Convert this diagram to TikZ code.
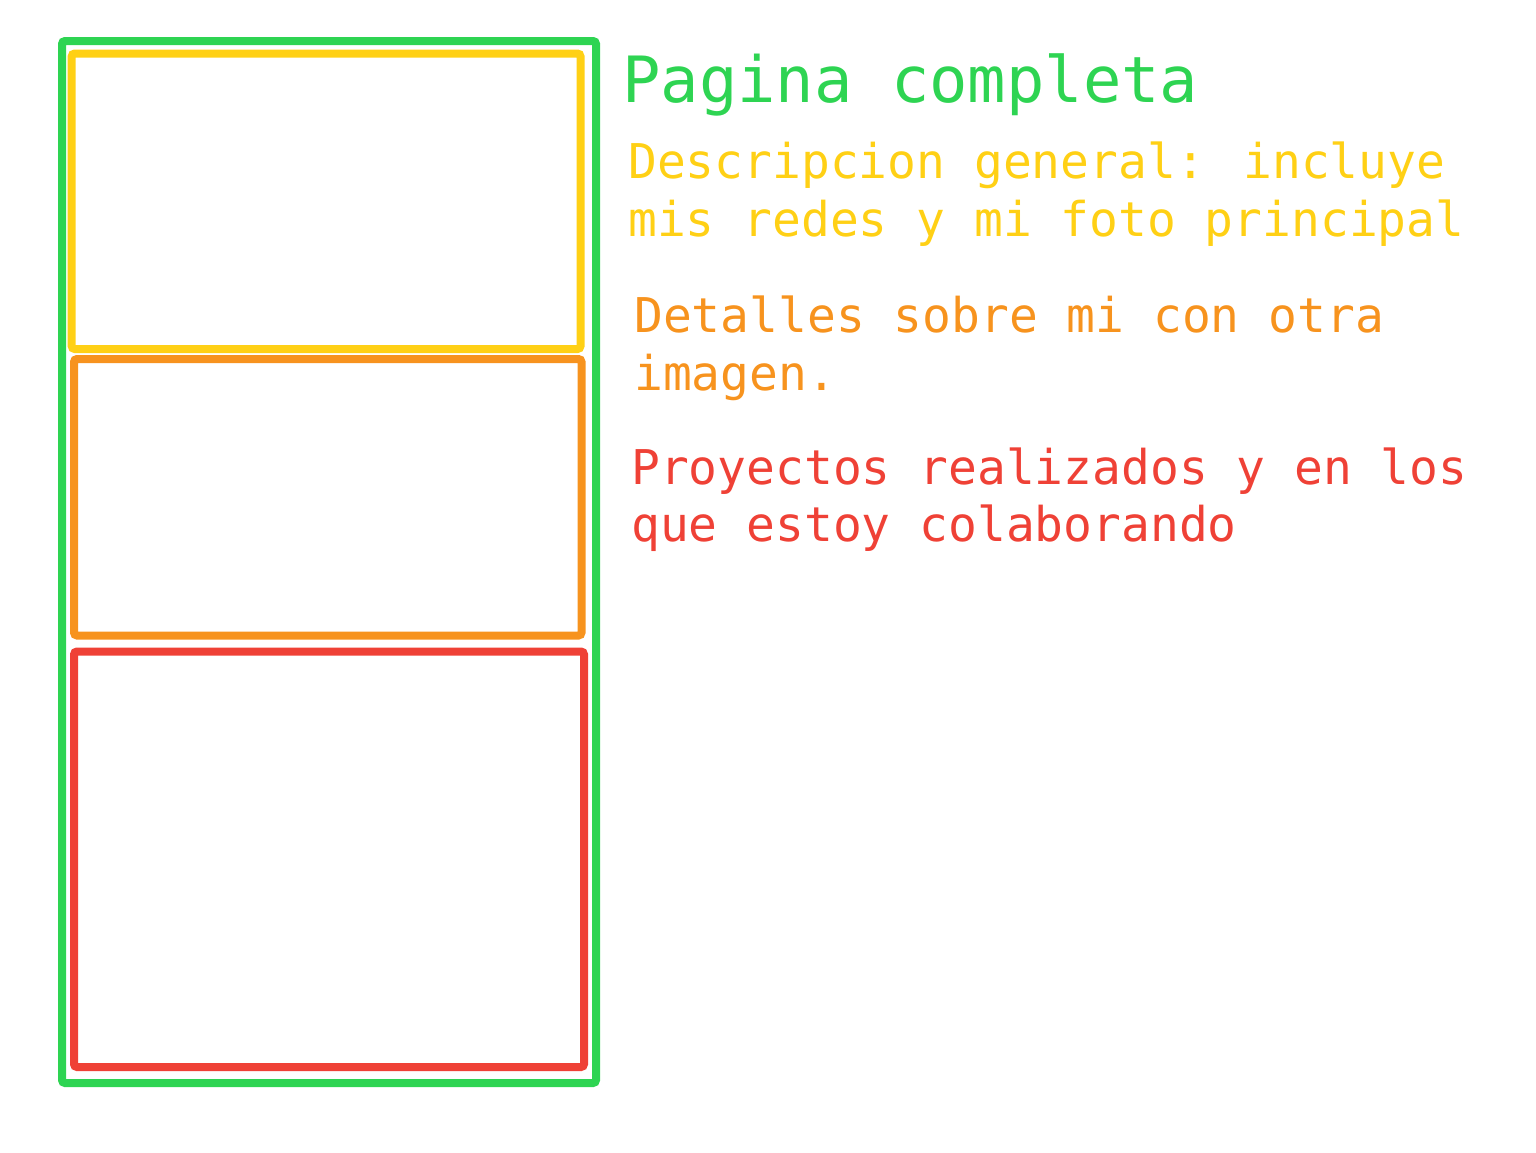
\documentclass[tikz,border=0pt]{standalone}
\usepackage{fontspec}
\usepackage{tikz}
\newfontfamily\monofont{DejaVu Sans Mono}

\definecolor{verde}{RGB}{46,212,82}
\definecolor{amarillo}{RGB}{255,208,21}
\definecolor{naranja}{RGB}{247,147,30}
\definecolor{rojo}{RGB}{239,65,54}

\begin{document}
\begin{tikzpicture}[x=1pt,y=-1pt,
   caja/.style={line width=8pt,rounded corners=3pt}]

\tikzstyle {titulo} = [anchor=base west, inner sep=0pt, font=\monofont\fontsize{63.8}{76}\selectfont];
\tikzstyle {nota} = [anchor=base west, inner sep=0pt, align=left, font=\monofont\fontsize{47.9}{57.7}\selectfont];

\useasboundingbox (0,0) rectangle (1536,1152);

\draw[caja, verde] (62,41) rectangle (596,1083);
\draw[caja, amarillo] (71.7,53.5) rectangle (580.5,349);
\draw[caja, naranja] (74,359) rectangle (581.5,635.5);
\draw[caja, rojo] (74,651.5) rectangle (584,1067);

% las notas de dos lineas se anclan en la ultima linea
\node[titulo, text=verde] (pagina) at (622,102.7){Pagina completa};
\node[nota, text=amarillo] (descripcion) at (628,236){Descripcion general: incluye\\mis redes y mi foto principal};
\node[nota, text=naranja] (detalles) at (634,390){Detalles sobre mi con otra\\imagen.};
\node[nota, text=rojo] (proyectos) at (631,541.7){Proyectos realizados y en los\\que estoy colaborando};

\end{tikzpicture}
\end{document}
